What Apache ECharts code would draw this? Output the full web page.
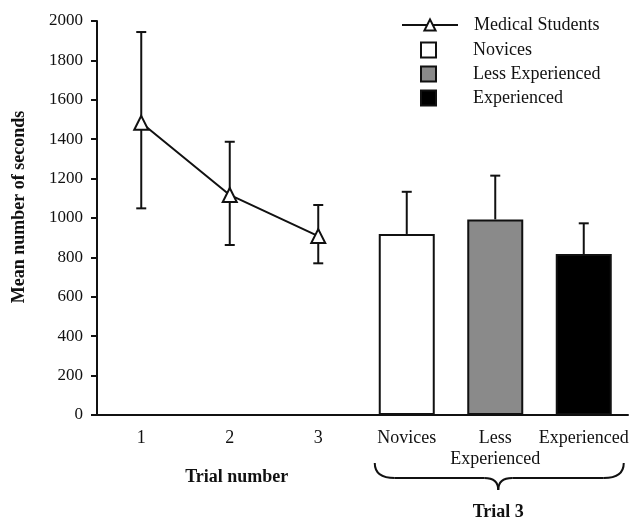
<!DOCTYPE html>
<html>
<head>
<meta charset="utf-8">
<script src="https://cdn.jsdelivr.net/npm/echarts@6/dist/echarts.min.js"></script>
<style>
  html, body { margin: 0; padding: 0; background: #fff; }
  #chart { width: 632px; height: 517px; }
</style>
</head>
<body>
<div id="chart"></div>
<script>
// categories on the x axis
let categories = ['1', '2', '3', 'Novices', 'Less\nExperienced', 'Experienced'];
let y_ticks = [0, 200, 400, 600, 800, 1000, 1200, 1400, 1600, 1800, 2000];

// medical students, trials 1-3
let med_mean = [1483, 1117, 908];
let med_upper = [1944, 1387, 1066];
let med_lower = [1049, 863, 770];

// trial 3 groups
let group_names = ['Novices', 'Less Experienced', 'Experienced'];
let group_mean = [919, 993, 817];
let group_upper = [1133, 1215, 973];
let group_colors = ['#ffffff', '#8a8a8a', '#000000'];

const FONT = "'Liberation Serif', 'Times New Roman', serif";
const INK = '#111';

let chart = echarts.init(document.getElementById('chart'));

// error bar rows: [category index, low, high, draw lower cap]
let err_rows = [];
med_mean.forEach((v, i) => err_rows.push([i, med_lower[i], med_upper[i], 1]));
group_mean.forEach((v, i) => err_rows.push([i + 3, group_mean[i], group_upper[i], 0]));

let bar_series = group_names.map((name, i) => {
    let data = categories.map(() => '-');
    data[i + 3] = group_mean[i];
    return {
        name: name,
        type: 'bar',
        stack: 'trial3',
        barWidth: 56,
        data: data,
        itemStyle: { color: group_colors[i], borderColor: INK, borderWidth: 2 },
        z: 3
    };
});

let option = {
    animation: false,
    textStyle: { fontFamily: FONT, color: INK },
    grid: { left: 97, right: 4, top: 21, bottom: 102 },
    legend: [
        {
            data: ['Medical Students'],
            left: 396, top: 11,
            itemWidth: 56, itemHeight: 14,
            textStyle: { fontFamily: FONT, fontSize: 18, color: INK, padding: [0, 0, 0, 11] },
            selectedMode: false
        },
        {
            data: group_names.map(n => ({ name: n, icon: 'rect' })),
            left: 415, top: 36,
            orient: 'vertical',
            itemWidth: 15, itemHeight: 15, itemGap: 6,
            textStyle: { fontFamily: FONT, fontSize: 18, color: INK, padding: [0, 0, 0, 32] },
            selectedMode: false
        }
    ],
    xAxis: {
        type: 'category',
        data: categories,
        axisLine: { lineStyle: { color: INK, width: 2 } },
        axisTick: { alignWithLabel: true, interval: 0, length: 5, lineStyle: { color: INK, width: 2 } },
        axisLabel: { interval: 0, fontFamily: FONT, fontSize: 18, color: INK, margin: 13, lineHeight: 21 }
    },
    yAxis: {
        type: 'value',
        min: y_ticks[0],
        max: y_ticks[y_ticks.length - 1],
        interval: 200,
        name: 'Mean number of seconds',
        nameLocation: 'middle',
        nameGap: 69,
        nameTextStyle: { fontFamily: FONT, fontSize: 18, fontWeight: 'bold', color: INK, padding: [0, 0, 0, 22] },
        splitLine: { show: false },
        axisLine: { show: true, lineStyle: { color: INK, width: 2 } },
        axisTick: { show: true, length: 6, lineStyle: { color: INK, width: 2 } },
        axisLabel: { fontFamily: FONT, fontSize: 17, color: INK, margin: 14, formatter: v => String(v) }
    },
    series: [
        {
            name: 'Medical Students',
            type: 'line',
            data: med_mean.concat(['-', '-', '-']),
            symbol: 'triangle',
            symbolSize: 14,
            lineStyle: { color: INK, width: 2 },
            itemStyle: { color: '#fff', borderColor: INK, borderWidth: 2 },
            z: 5
        },
        ...bar_series,
        {
            type: 'custom',
            data: err_rows,
            z: 2,
            renderItem: function (params, api) {
                let x = api.value(0);
                let lo = api.coord([x, api.value(1)]);
                let hi = api.coord([x, api.value(2)]);
                let cap = 5;
                let style = { stroke: INK, lineWidth: 2 };
                let kids = [
                    { type: 'line', shape: { x1: lo[0], y1: lo[1], x2: hi[0], y2: hi[1] }, style: style },
                    { type: 'line', shape: { x1: hi[0] - cap, y1: hi[1], x2: hi[0] + cap, y2: hi[1] }, style: style }
                ];
                if (api.value(3)) {
                    kids.push({ type: 'line', shape: { x1: lo[0] - cap, y1: lo[1], x2: lo[0] + cap, y2: lo[1] }, style: style });
                }
                return { type: 'group', children: kids };
            }
        }
    ]
};
chart.setOption(option);

// annotations under the axis: "Trial number" and the brace for trial 3
function draw_notes() {
    let p2 = chart.convertToPixel({ xAxisIndex: 0 }, categories[1]);
    let pNov = chart.convertToPixel({ xAxisIndex: 0 }, categories[3]);
    let pLess = chart.convertToPixel({ xAxisIndex: 0 }, categories[4]);
    let pExp = chart.convertToPixel({ xAxisIndex: 0 }, categories[5]);
    let x1 = pNov - 32, x2 = pExp + 40, mid = pLess + 3;
    let top = 463, flat = 478, tip = 490;
    let st = { stroke: INK, lineWidth: 2, fill: null };
    let curve = (ax, ay, cx, cy, bx, by) => ({
        type: 'bezierCurve',
        shape: { x1: ax, y1: ay, cpx1: cx, cpy1: cy, x2: bx, y2: by },
        style: st
    });
    let seg = (ax, ay, bx, by) => ({ type: 'line', shape: { x1: ax, y1: ay, x2: bx, y2: by }, style: st });
    chart.setOption({
        graphic: [
            {
                type: 'text', x: p2 + 7, y: 477,
                style: { text: 'Trial number', font: 'bold 18px ' + FONT, fill: INK, align: 'center', verticalAlign: 'middle' }
            },
            curve(x1, top, x1, flat, x1 + 20, flat),
            seg(x1 + 20, flat, mid - 14, flat),
            curve(mid - 14, flat, mid, flat, mid, tip),
            curve(mid, tip, mid, flat, mid + 14, flat),
            seg(mid + 14, flat, x2 - 20, flat),
            curve(x2 - 20, flat, x2, flat, x2, top),
            {
                type: 'text', x: mid, y: 512,
                style: { text: 'Trial 3', font: 'bold 18px ' + FONT, fill: INK, align: 'center', verticalAlign: 'middle' }
            }
        ]
    });
}
draw_notes();
</script>
</body>
</html>
